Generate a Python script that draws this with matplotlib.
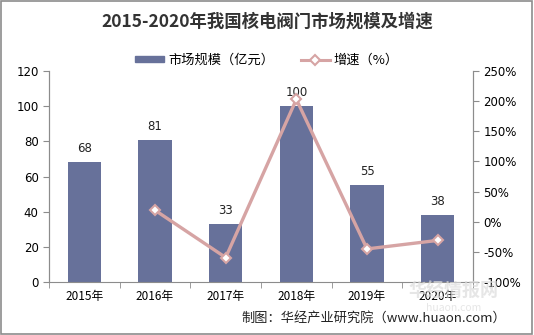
import matplotlib
matplotlib.use("Agg")
import matplotlib.pyplot as plt
from matplotlib.lines import Line2D
from matplotlib.patches import Rectangle

plt.rcParams['font.family'] = ['Noto Sans CJK SC', 'DejaVu Sans']

years = ["2015年", "2016年", "2017年", "2018年", "2019年", "2020年"]
market = [68, 81, 33, 100, 55, 38]
growth_years = [1, 2, 3, 4, 5]
growth = [19.1, -59.3, 203.0, -45.0, -30.9]

bar_color = "#67719a"
line_color = "#d6a4a4"
axis_color = "#8c8c8c"

fig = plt.figure(figsize=(5.34, 3.35), dpi=100)
ax = fig.add_axes([0.0918, 0.158, 0.794, 0.630])
ax2 = ax.twinx()

x = list(range(len(years)))
bars = ax.bar(x, market, width=0.47, color=bar_color, zorder=2)
for xi, v in zip(x, market):
    ax.text(xi, v + 4, str(v), ha="center", va="bottom", fontsize=8.5,
            family=["DejaVu Sans"], color="#222222")

ax2.plot(growth_years, growth, color=line_color, lw=2.4, marker="D", ms=5,
         mfc="white", mec=line_color, mew=1.5, zorder=3)

ax.set_xlim(-0.5, 5.5)
ax.set_ylim(0, 120)
ax.set_yticks(range(0, 121, 20))
ax2.set_ylim(-100, 250)
ax2.set_yticks(range(-100, 251, 50))
ax2.set_yticklabels([f"{v}%" for v in range(-100, 251, 50)])

ax.set_xticks(x)
ax.set_xticklabels(years)
ax.set_xticks([i - 0.5 for i in range(7)], minor=True)
ax.tick_params(axis="x", which="major", length=0, labelsize=8.5, pad=6)
ax.tick_params(axis="x", which="minor", length=4, color=axis_color)
ax.tick_params(axis="y", length=4, color=axis_color, labelsize=8.5)
ax2.tick_params(axis="y", length=4, color=axis_color, labelsize=8.5)
for a in (ax, ax2):
    for lab in a.get_yticklabels():
        lab.set_family(["DejaVu Sans"])
    a.spines["top"].set_visible(False)
    for s in ("left", "right", "bottom"):
        a.spines[s].set_color(axis_color)
ax2.spines["bottom"].set_visible(False)

fig.text(0.5, 0.935, "2015-2020年我国核电阀门市场规模及增速", ha="center", va="center",
         fontsize=12.5, fontweight="bold", color="#333333")

handles = [Rectangle((0, 0), 1, 1, color=bar_color),
           Line2D([], [], color=line_color, lw=2.2, marker="D", ms=5,
                  mfc="white", mec=line_color, mew=1.5)]
fig.legend(handles, ["市场规模（亿元）", "增速（%）"], loc="center",
           bbox_to_anchor=(0.5, 0.82), ncol=2, frameon=False, fontsize=9.5,
           handlelength=2.2, handleheight=0.35, columnspacing=2.0, handletextpad=0.3)

# faint watermark, as in the source image
fig.text(0.85, 0.13, "华经情报网", ha="center", va="center", fontsize=13,
         fontweight="bold", color="#dcdcdc", alpha=0.7, zorder=0)
fig.text(0.85, 0.082, "huaon.com", ha="center", va="center", fontsize=7.5,
         color="#dcdcdc", alpha=0.7, zorder=0)
fig.text(0.948, 0.05, "制图：华经产业研究院（www.huaon.com）", ha="right", va="center",
         fontsize=9.5, color="#222222")

fig.patches.append(Rectangle((0.002, 0.003), 0.995, 0.994, transform=fig.transFigure,
                             fill=False, edgecolor="#8c8c8c", lw=1.2))

fig.savefig("out.png", dpi=100)
